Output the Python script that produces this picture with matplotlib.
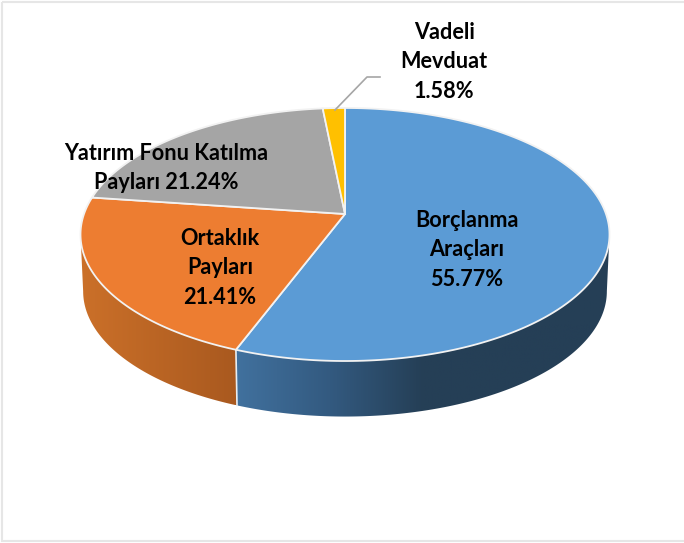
import matplotlib.pyplot as plt
import numpy as np
from matplotlib.patches import Polygon, Rectangle

# Pie values, clockwise from the top
labels = ["Borçlanma\nAraçları\n55.77%", "Ortaklık\nPayları\n21.41%",
          "Yatırım Fonu Katılma\nPayları 21.24%", "Vadeli\nMevduat\n1.58%"]
shares = [55.77, 21.41, 21.24, 1.58]
colors = ["#5b9bd5", "#ed7d31", "#a5a5a5", "#ffc000"]

# Side wall gradients, left to right
blue_side = ["#41719e", "#335a80", "#253f56", "#253f56", "#253f56"]
orange_side = ["#cb7029", "#a9591f"]

# Label centres in pixels
label_pos = [(467, 250), (220, 268), (166, 168), (444, 62)]

# Perspective projection of the pie (pixels)
cx, cy = 345, 214
a, b, k = 261, 123.2, 0.162
depth = 57
bottom_scale = 0.99


def rim(theta, drop=0, scale=1.0):
    """Project clockwise-from-top angles (degrees) on to the image."""
    t = np.radians(theta)
    u, v = np.sin(t), np.cos(t)
    w = 1 + k * v
    return np.column_stack([cx + scale * a * u / w, cy + drop - scale * b * v / w])


fig = plt.figure(figsize=(6.84, 5.43), dpi=100)
ax = fig.add_axes([0, 0, 1, 1])
ax.set_xlim(0, 684)
ax.set_ylim(543, 0)
ax.axis("off")

# Thin outer frame of the chart area
ax.add_patch(Rectangle((2, 1.5), 690, 539.5, fill=False, ec="#e6e6e6", lw=1.5))

edges = np.cumsum([0] + shares) * 3.6
sil_r, sil_l = 99.3, 260.7


def side_wall(t0, t1, stops):
    ts = np.linspace(t0, t1, 200)
    top = rim(ts)
    bot = rim(ts, depth, bottom_scale)
    pts = np.vstack([top, bot[::-1]])
    poly = Polygon(pts, closed=True, fc="none", ec="none")
    ax.add_patch(poly)
    rgb = np.array([plt.matplotlib.colors.to_rgb(c) for c in stops])
    x0, x1 = pts[:, 0].min(), pts[:, 0].max()
    xs = np.linspace(0, 1, 256)
    grid = np.column_stack([np.interp(xs, np.linspace(0, 1, len(stops)), rgb[:, i]) for i in range(3)])
    im = ax.imshow(grid[None, :, :], extent=(x0, x1, pts[:, 1].max(), pts[:, 1].min()),
                   aspect="auto", zorder=2)
    im.set_clip_path(poly)


side_wall(sil_r, edges[1], blue_side)
side_wall(edges[1], sil_l, orange_side)
ax.set_xlim(0, 684)
ax.set_ylim(543, 0)

# Seam between the two walls
seam = np.vstack([rim([edges[1]]), rim([edges[1]], depth, bottom_scale)])
ax.plot(seam[:, 0], seam[:, 1], color="#e8edf2", lw=1.2, zorder=3)

# Top face
for i, c in enumerate(colors):
    ts = np.linspace(edges[i], edges[i + 1], 200)
    pts = np.vstack([[cx, cy], rim(ts)])
    ax.add_patch(Polygon(pts, closed=True, fc=c, ec="#f2f2f2", lw=1.3, zorder=4))

# Leader line for the small slice
ax.plot([335, 367, 380], [110, 77, 77], color="#a6a6a6", lw=1.2, zorder=5)

for txt, (x, y) in zip(labels, label_pos):
    ax.text(x, y, txt, ha="center", va="center", family="Lato", fontweight="bold",
            fontsize=15.6, linespacing=1.52, color="black", zorder=6)

fig.savefig("out.png", dpi=100)
